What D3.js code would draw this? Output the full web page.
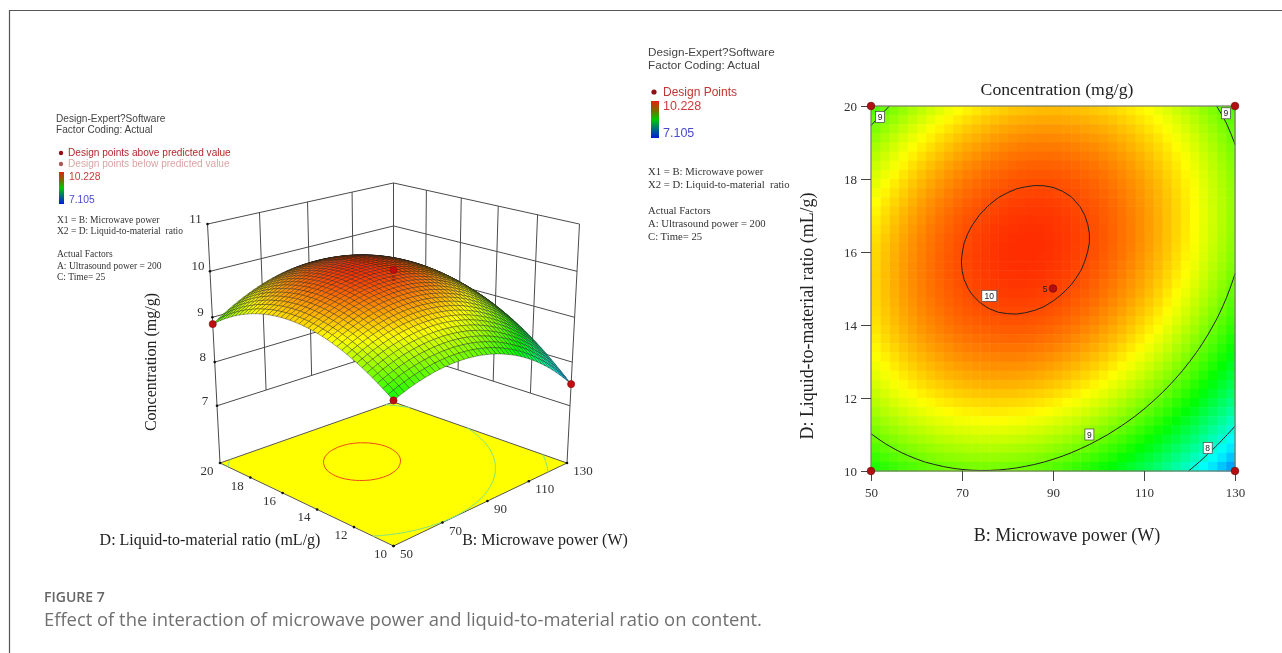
<!DOCTYPE html>
<html>
<head>
<meta charset="utf-8">
<script src="https://d3js.org/d3.v7.min.js"></script>
<style>
html, body { margin: 0; padding: 0; background: #fff; }
svg { display: block; filter: blur(0.4px); }
.sans { font-family: "Liberation Sans", Arial, sans-serif; }
.serif { font-family: "Liberation Serif", "Times New Roman", serif; }
.cap { font-family: "Open Sans", "Noto Sans", sans-serif; }
</style>
</head>
<body>
<div id="chart"></div>
<script>
const WIDTH = 1282;
const HEIGHT = 653;

const powerRange = [50, 130];
const ratioRange = [10, 20];
const powerTicks = [50, 70, 90, 110, 130];
const ratioTicks = [10, 12, 14, 16, 18, 20];
const concTicks = [7, 8, 9, 10, 11];
const concRange = [5.65, 11];
const contourLevels = [8, 9, 10];
const rampValues = [7.105, 7.886, 8.667, 9.447, 10.228];
const rampColors = ["#0000ff", "#00ffff", "#00ff00", "#ffff00", "#ff0000"];
const corners = [[50, 10], [130, 10], [50, 20], [130, 20]];
const centerPoint = [90, 15];
const heatLabels = [["9", 52, 19.7], ["9", 128, 19.8], ["10", 76, 14.8], ["9", 98, 11], ["8", 124, 10.63]];

const legendHead = ["Design-Expert?Software", "Factor Coding: Actual"];
const legendFactors = ["X1 = B: Microwave power", "X2 = D: Liquid-to-material  ratio"];
const legendActual = ["Actual Factors", "A: Ultrasound power = 200", "C: Time= 25"];

// response, rows D = 10..20 (step 0.25), columns B = 50..130 (step 2)
const concentration = [
[8.700,8.746,8.788,8.826,8.861,8.891,8.918,8.940,8.959,8.974,8.985,8.992,8.995,8.994,8.990,8.981,8.969,8.952,8.932,8.908,8.880,8.848,8.812,8.772,8.729,8.681,8.630,8.574,8.515,8.452,8.385,8.314,8.239,8.160,8.078,7.991,7.901,7.806,7.708,7.606,7.500],
[8.780,8.827,8.870,8.908,8.944,8.975,9.003,9.025,9.045,9.061,9.073,9.080,9.084,9.084,9.081,9.072,9.061,9.045,9.026,9.002,8.975,8.944,8.909,8.869,8.827,8.780,8.730,8.674,8.616,8.554,8.488,8.417,8.343,8.265,8.184,8.097,8.008,7.914,7.817,7.715,7.610],
[8.855,8.903,8.946,8.986,9.022,9.054,9.082,9.106,9.126,9.143,9.155,9.164,9.168,9.169,9.166,9.159,9.148,9.133,9.114,9.092,9.065,9.035,9.000,8.962,8.920,8.874,8.824,8.769,8.712,8.651,8.585,8.516,8.442,8.365,8.284,8.199,8.110,8.017,7.920,7.820,7.715],
[8.926,8.974,9.019,9.059,9.096,9.128,9.158,9.182,9.203,9.220,9.234,9.243,9.248,9.249,9.248,9.241,9.231,9.216,9.199,9.177,9.151,9.121,9.088,9.050,9.009,8.963,8.914,8.861,8.804,8.743,8.678,8.609,8.537,8.460,8.381,8.296,8.208,8.115,8.020,7.920,7.816],
[8.994,9.043,9.089,9.129,9.167,9.200,9.231,9.255,9.277,9.295,9.310,9.319,9.325,9.327,9.327,9.320,9.311,9.297,9.281,9.259,9.234,9.205,9.173,9.135,9.095,9.050,9.002,8.949,8.893,8.833,8.769,8.700,8.629,8.553,8.475,8.390,8.303,8.211,8.117,8.017,7.914],
[9.058,9.108,9.154,9.195,9.234,9.268,9.299,9.324,9.347,9.366,9.381,9.391,9.398,9.401,9.401,9.395,9.387,9.374,9.358,9.337,9.313,9.285,9.253,9.216,9.177,9.133,9.086,9.033,8.978,8.919,8.856,8.788,8.717,8.642,8.564,8.480,8.394,8.303,8.209,8.110,8.008],
[9.118,9.169,9.215,9.258,9.297,9.332,9.363,9.390,9.413,9.433,9.448,9.460,9.467,9.471,9.471,9.467,9.459,9.447,9.431,9.412,9.388,9.360,9.329,9.294,9.255,9.212,9.165,9.114,9.059,9.001,8.938,8.872,8.801,8.727,8.649,8.567,8.481,8.391,8.297,8.200,8.098],
[9.174,9.225,9.273,9.316,9.356,9.391,9.424,9.451,9.475,9.495,9.512,9.524,9.532,9.536,9.538,9.534,9.527,9.515,9.501,9.482,9.459,9.432,9.402,9.367,9.329,9.286,9.241,9.190,9.136,9.078,9.017,8.951,8.881,8.807,8.731,8.649,8.564,8.474,8.382,8.285,8.184],
[9.226,9.278,9.326,9.370,9.411,9.447,9.480,9.508,9.533,9.554,9.571,9.584,9.593,9.598,9.600,9.597,9.591,9.580,9.566,9.548,9.526,9.500,9.470,9.436,9.399,9.357,9.312,9.262,9.209,9.152,9.091,9.026,8.957,8.884,8.808,8.727,8.643,8.554,8.462,8.366,8.266],
[9.275,9.328,9.377,9.421,9.463,9.500,9.534,9.562,9.588,9.610,9.628,9.641,9.651,9.657,9.660,9.657,9.652,9.642,9.629,9.611,9.590,9.565,9.536,9.502,9.466,9.425,9.381,9.331,9.279,9.223,9.163,9.098,9.030,8.958,8.883,8.802,8.719,8.631,8.540,8.444,8.345],
[9.319,9.373,9.422,9.468,9.510,9.548,9.582,9.612,9.638,9.661,9.679,9.694,9.704,9.711,9.714,9.713,9.708,9.699,9.686,9.670,9.649,9.625,9.596,9.564,9.528,9.488,9.444,9.396,9.344,9.289,9.229,9.166,9.098,9.027,8.952,8.873,8.790,8.703,8.612,8.518,8.419],
[9.359,9.413,9.464,9.510,9.553,9.591,9.627,9.657,9.684,9.707,9.727,9.742,9.753,9.760,9.765,9.764,9.760,9.751,9.740,9.724,9.704,9.680,9.653,9.621,9.586,9.546,9.504,9.456,9.405,9.350,9.292,9.229,9.162,9.091,9.018,8.939,8.857,8.770,8.681,8.587,8.489],
[9.396,9.451,9.502,9.549,9.593,9.632,9.668,9.699,9.727,9.751,9.771,9.787,9.799,9.807,9.812,9.812,9.809,9.801,9.790,9.775,9.756,9.733,9.706,9.675,9.641,9.602,9.560,9.513,9.463,9.409,9.351,9.289,9.223,9.153,9.080,9.002,8.921,8.835,8.746,8.653,8.556],
[9.429,9.485,9.537,9.584,9.629,9.669,9.706,9.737,9.766,9.791,9.812,9.828,9.841,9.850,9.856,9.856,9.854,9.847,9.837,9.822,9.804,9.782,9.756,9.725,9.692,9.654,9.613,9.566,9.517,9.464,9.407,9.345,9.280,9.211,9.139,9.061,8.981,8.896,8.808,8.715,8.619],
[9.458,9.515,9.567,9.616,9.661,9.702,9.739,9.772,9.801,9.827,9.848,9.866,9.879,9.889,9.895,9.897,9.895,9.889,9.879,9.866,9.848,9.827,9.801,9.772,9.739,9.702,9.661,9.616,9.567,9.515,9.458,9.398,9.333,9.264,9.193,9.117,9.037,8.953,8.865,8.774,8.678],
[9.483,9.540,9.594,9.643,9.689,9.730,9.769,9.802,9.832,9.858,9.881,9.899,9.913,9.923,9.931,9.933,9.932,9.926,9.918,9.905,9.888,9.867,9.843,9.814,9.782,9.745,9.706,9.661,9.613,9.561,9.506,9.446,9.382,9.314,9.244,9.168,9.089,9.005,8.919,8.828,8.733],
[9.504,9.562,9.616,9.666,9.713,9.755,9.794,9.828,9.859,9.886,9.909,9.928,9.943,9.954,9.962,9.965,9.965,9.960,9.952,9.940,9.924,9.904,9.880,9.852,9.821,9.785,9.746,9.702,9.655,9.604,9.549,9.490,9.427,9.360,9.290,9.215,9.137,9.054,8.968,8.878,8.784],
[9.522,9.581,9.636,9.686,9.734,9.777,9.817,9.851,9.883,9.911,9.935,9.954,9.970,9.982,9.991,9.994,9.995,9.991,9.984,9.972,9.957,9.938,9.915,9.887,9.857,9.822,9.784,9.740,9.694,9.644,9.590,9.531,9.469,9.403,9.334,9.259,9.182,9.100,9.015,8.925,8.832],
[9.535,9.595,9.650,9.702,9.750,9.794,9.834,9.870,9.902,9.931,9.955,9.976,9.992,10.005,10.014,10.019,10.020,10.017,10.010,10.000,9.985,9.967,9.944,9.918,9.888,9.854,9.816,9.774,9.728,9.679,9.625,9.568,9.506,9.441,9.372,9.299,9.222,9.141,9.056,8.968,8.875],
[9.544,9.604,9.660,9.713,9.762,9.806,9.848,9.884,9.917,9.946,9.972,9.993,10.010,10.023,10.034,10.039,10.041,10.038,10.033,10.023,10.009,9.991,9.970,9.944,9.915,9.881,9.845,9.803,9.758,9.709,9.657,9.600,9.539,9.474,9.406,9.334,9.258,9.177,9.094,9.006,8.914],
[9.550,9.611,9.668,9.721,9.771,9.816,9.858,9.895,9.929,9.959,9.985,10.007,10.025,10.039,10.050,10.056,10.059,10.057,10.052,10.043,10.030,10.013,9.992,9.967,9.939,9.906,9.870,9.829,9.785,9.737,9.685,9.630,9.570,9.505,9.438,9.366,9.291,9.211,9.128,9.041,8.950],
[9.552,9.614,9.672,9.725,9.776,9.822,9.865,9.902,9.937,9.968,9.995,10.017,10.036,10.051,10.063,10.069,10.073,10.072,10.068,10.059,10.047,10.031,10.011,9.986,9.959,9.927,9.892,9.851,9.808,9.761,9.710,9.654,9.595,9.532,9.466,9.394,9.320,9.241,9.159,9.072,8.982],
[9.550,9.613,9.671,9.726,9.777,9.824,9.867,9.906,9.941,9.973,10.000,10.024,10.043,10.059,10.071,10.079,10.083,10.083,10.079,10.072,10.060,10.045,10.025,10.002,9.975,9.944,9.909,9.870,9.827,9.781,9.730,9.676,9.617,9.555,9.489,9.419,9.345,9.267,9.185,9.100,9.010],
[9.544,9.607,9.667,9.722,9.774,9.821,9.866,9.905,9.941,9.973,10.002,10.026,10.046,10.062,10.076,10.084,10.089,10.089,10.087,10.080,10.069,10.054,10.036,10.013,9.987,9.956,9.923,9.884,9.842,9.796,9.747,9.693,9.635,9.573,9.508,9.439,9.366,9.288,9.208,9.123,9.034],
[9.534,9.598,9.658,9.714,9.767,9.815,9.860,9.900,9.937,9.970,9.999,10.024,10.045,10.062,10.076,10.085,10.091,10.092,10.090,10.084,10.074,10.060,10.042,10.020,9.995,9.965,9.932,9.894,9.853,9.808,9.759,9.706,9.649,9.588,9.524,9.455,9.383,9.306,9.226,9.142,9.054],
[9.521,9.586,9.647,9.703,9.757,9.806,9.852,9.892,9.930,9.964,9.994,10.019,10.041,10.059,10.074,10.083,10.090,10.092,10.091,10.085,10.076,10.063,10.046,10.024,10.000,9.971,9.939,9.901,9.861,9.817,9.769,9.717,9.660,9.600,9.536,9.468,9.397,9.321,9.242,9.158,9.071],
[9.503,9.569,9.630,9.688,9.742,9.792,9.838,9.880,9.918,9.953,9.983,10.010,10.032,10.051,10.066,10.077,10.084,10.087,10.086,10.082,10.073,10.061,10.044,10.024,10.000,9.972,9.940,9.904,9.864,9.821,9.773,9.722,9.666,9.607,9.544,9.477,9.406,9.331,9.252,9.170,9.083],
[9.481,9.547,9.610,9.668,9.723,9.773,9.821,9.863,9.902,9.937,9.969,9.996,10.019,10.038,10.055,10.066,10.074,10.077,10.078,10.074,10.066,10.054,10.039,10.019,9.996,9.968,9.938,9.902,9.863,9.820,9.774,9.723,9.668,9.609,9.547,9.481,9.411,9.336,9.259,9.177,9.091],
[9.456,9.523,9.586,9.645,9.701,9.752,9.800,9.843,9.883,9.919,9.951,9.979,10.003,10.023,10.040,10.052,10.061,10.065,10.066,10.063,10.056,10.045,10.030,10.011,9.989,9.962,9.932,9.897,9.859,9.817,9.771,9.721,9.667,9.609,9.548,9.482,9.413,9.339,9.262,9.181,9.096],
[9.427,9.495,9.559,9.618,9.675,9.727,9.776,9.819,9.860,9.897,9.930,9.958,9.983,10.004,10.022,10.034,10.044,10.049,10.051,10.048,10.042,10.032,10.018,9.999,9.978,9.952,9.923,9.888,9.851,9.810,9.765,9.715,9.662,9.605,9.545,9.479,9.411,9.338,9.262,9.181,9.097],
[9.394,9.463,9.527,9.588,9.645,9.698,9.747,9.792,9.833,9.871,9.904,9.934,9.959,9.981,9.999,10.013,10.023,10.029,10.031,10.030,10.024,10.015,10.001,9.984,9.963,9.938,9.909,9.876,9.839,9.799,9.754,9.706,9.653,9.597,9.537,9.473,9.405,9.333,9.257,9.178,9.094],
[9.357,9.426,9.492,9.553,9.611,9.664,9.715,9.760,9.802,9.840,9.875,9.905,9.931,9.953,9.973,9.987,9.998,10.004,10.008,10.007,10.002,9.993,9.981,9.964,9.944,9.919,9.892,9.859,9.823,9.783,9.740,9.692,9.640,9.584,9.526,9.462,9.395,9.323,9.249,9.170,9.087],
[9.316,9.386,9.452,9.514,9.573,9.627,9.678,9.724,9.767,9.806,9.841,9.872,9.899,9.922,9.942,9.957,9.969,9.976,9.980,9.980,9.976,9.968,9.956,9.940,9.921,9.897,9.870,9.838,9.803,9.764,9.721,9.674,9.623,9.568,9.510,9.447,9.381,9.310,9.236,9.158,9.076],
[9.272,9.343,9.410,9.472,9.532,9.587,9.639,9.685,9.729,9.769,9.805,9.836,9.864,9.888,9.909,9.924,9.937,9.945,9.950,9.950,9.947,9.940,9.929,9.913,9.895,9.872,9.846,9.814,9.780,9.742,9.700,9.654,9.603,9.549,9.492,9.429,9.364,9.294,9.221,9.143,9.062],
[9.223,9.295,9.362,9.426,9.486,9.542,9.594,9.642,9.686,9.727,9.763,9.796,9.824,9.849,9.870,9.887,9.900,9.909,9.914,9.916,9.913,9.907,9.896,9.882,9.864,9.842,9.816,9.786,9.752,9.715,9.673,9.628,9.578,9.525,9.468,9.407,9.342,9.273,9.200,9.124,9.043],
[9.170,9.242,9.311,9.375,9.436,9.492,9.546,9.594,9.639,9.680,9.718,9.751,9.780,9.805,9.828,9.845,9.859,9.868,9.875,9.877,9.875,9.869,9.860,9.846,9.829,9.807,9.783,9.753,9.720,9.683,9.643,9.598,9.549,9.496,9.441,9.380,9.316,9.247,9.176,9.100,9.020],
[9.114,9.187,9.256,9.321,9.383,9.440,9.494,9.543,9.589,9.631,9.669,9.703,9.733,9.759,9.782,9.800,9.815,9.825,9.832,9.835,9.834,9.829,9.820,9.807,9.791,9.770,9.746,9.717,9.685,9.649,9.609,9.565,9.517,9.465,9.410,9.350,9.287,9.219,9.148,9.073,8.994],
[9.054,9.128,9.198,9.263,9.326,9.384,9.439,9.488,9.535,9.578,9.617,9.651,9.682,9.709,9.733,9.751,9.767,9.778,9.786,9.789,9.789,9.785,9.777,9.764,9.749,9.729,9.706,9.677,9.646,9.611,9.572,9.528,9.481,9.430,9.376,9.316,9.254,9.187,9.117,9.042,8.964],
[8.990,9.065,9.135,9.202,9.265,9.324,9.379,9.430,9.477,9.521,9.560,9.596,9.627,9.655,9.679,9.699,9.715,9.727,9.735,9.740,9.740,9.737,9.729,9.718,9.703,9.684,9.661,9.634,9.604,9.569,9.530,9.488,9.441,9.391,9.337,9.279,9.217,9.151,9.081,9.008,8.930],
[8.922,8.997,9.069,9.136,9.200,9.259,9.316,9.367,9.415,9.459,9.500,9.536,9.568,9.596,9.622,9.642,9.659,9.671,9.681,9.686,9.687,9.684,9.678,9.667,9.653,9.634,9.613,9.586,9.557,9.522,9.485,9.444,9.397,9.348,9.295,9.238,9.177,9.112,9.043,8.969,8.892],
[8.850,8.926,8.998,9.066,9.131,9.191,9.248,9.300,9.349,9.394,9.435,9.472,9.505,9.534,9.560,9.581,9.599,9.612,9.622,9.628,9.630,9.628,9.622,9.612,9.599,9.581,9.560,9.534,9.505,9.472,9.435,9.394,9.349,9.300,9.248,9.191,9.131,9.066,8.998,8.926,8.850]
];

const heatColor = d3.scaleLinear().domain(rampValues).range(rampColors).clamp(true);
const N = concentration[0].length;
const powerIndex = d3.scaleLinear().domain([0, N - 1]).range(powerRange);
const ratioIndex = d3.scaleLinear().domain([0, concentration.length - 1]).range(ratioRange);

const svg = d3.select("#chart").append("svg")
    .attr("width", WIDTH)
    .attr("height", HEIGHT);

var defs = svg.append("defs");
var grad = defs.append("linearGradient").attr("id", "ramp")
    .attr("x1", 0).attr("x2", 0).attr("y1", 0).attr("y2", 1);
[["0%", "#e8200a"], ["25%", "#7a6a00"], ["50%", "#00c800"], ["75%", "#006e7a"], ["100%", "#0018e0"]].forEach(function (s) {
    grad.append("stop").attr("offset", s[0]).attr("stop-color", s[1]);
});

// page frame
svg.append("path")
    .attr("d", "M9.5," + HEIGHT + "V10.5H" + WIDTH)
    .attr("fill", "none").attr("stroke", "#555").attr("stroke-width", 1.2);

// 3D projection, calibrated on the box corners
const xUnit = d3.scaleLinear().domain(powerRange).range([-1, 1]);
const yUnit = d3.scaleLinear().domain(ratioRange).range([-1, 1]);
const hUnit = d3.scaleLinear().domain(concRange).range([0, 1]);

function project(b, d, v) {
    var x = xUnit(b), y = yUnit(d), h = hUnit(v);
    var r = (x - y) / 2, q = (x + y) / 2;
    var w = 1 + 0.1528 * q - 0.0672 * h;
    return [393.5 + 173.5 * r / w, (0.43 * q + 463 - 254 * h - 10.8 * q * h) / w];
}

var g3 = svg.append("g");
const floorV = concRange[0];
const lineGen = d3.line();

function polyPath(pts) { return lineGen(pts) + "Z"; }

// floor
g3.append("path")
    .attr("d", polyPath([project(50, 10, floorV), project(130, 10, floorV), project(130, 20, floorV), project(50, 20, floorV)]))
    .attr("fill", "#ffff00").attr("stroke", "#555").attr("stroke-width", 1);

// iso lines, cut where a ring runs along the grid edge
function isoSegments(level) {
    var flat = [].concat.apply([], concentration);
    var c = d3.contours().size([N, concentration.length]).thresholds([level])(flat)[0];
    var segs = [];
    c.coordinates.forEach(function (poly) {
        poly.forEach(function (ring) {
            var pts = ring.map(function (p) {
                return [Math.max(0, Math.min(N - 1, p[0] - 0.5)), Math.max(0, Math.min(N - 1, p[1] - 0.5))];
            });
            for (var i = 1; i < pts.length; i++) {
                var a = pts[i - 1], b = pts[i];
                var sameEdge = (a[0] === b[0] && (a[0] === 0 || a[0] === N - 1)) ||
                    (a[1] === b[1] && (a[1] === 0 || a[1] === N - 1));
                if (!sameEdge) segs.push([a, b]);
            }
        });
    });
    return segs;
}

function isoPath(level, toScreen) {
    var p = d3.path();
    isoSegments(level).forEach(function (s) {
        var a = toScreen(s[0]), b = toScreen(s[1]);
        p.moveTo(a[0], a[1]);
        p.lineTo(b[0], b[1]);
    });
    return p.toString();
}

contourLevels.forEach(function (level) {
    g3.append("path")
        .attr("d", isoPath(level, function (p) { return project(powerIndex(p[0]), ratioIndex(p[1]), floorV); }))
        .attr("fill", "none")
        .attr("stroke", level === 10 ? "#f04a1a" : "#7fe28a")
        .attr("stroke-width", 1);
});

// walls
function wallLine(p, q) {
    g3.append("line").attr("x1", p[0]).attr("y1", p[1]).attr("x2", q[0]).attr("y2", q[1])
        .attr("stroke", "#4a4a4a").attr("stroke-width", 1);
}
concTicks.forEach(function (v) {
    wallLine(project(50, 20, v), project(130, 20, v));
    wallLine(project(130, 20, v), project(130, 10, v));
});
powerTicks.slice(1, -1).forEach(function (b) { wallLine(project(b, 20, 7), project(b, 20, 11)); });
ratioTicks.slice(1, -1).forEach(function (d) { wallLine(project(130, d, 7), project(130, d, 11)); });
wallLine(project(130, 20, 7), project(130, 20, 11));
wallLine(project(50, 20, floorV), project(50, 20, 11));
wallLine(project(130, 10, floorV), project(130, 10, 11));

// response surface, far cells first
var cells = [];
d3.range(N - 1).forEach(function (i) {
    d3.range(concentration.length - 1).forEach(function (j) {
        cells.push({ i: i, j: j, v: (concentration[j][i] + concentration[j][i + 1] + concentration[j + 1][i] + concentration[j + 1][i + 1]) / 4 });
    });
});
cells.sort(function (a, b) { return (b.i + b.j) - (a.i + a.j); });

function node(i, j) { return project(powerIndex(i), ratioIndex(j), concentration[j][i]); }

g3.append("g").selectAll("path").data(cells).enter().append("path")
    .attr("d", function (c) {
        return polyPath([node(c.i, c.j), node(c.i + 1, c.j), node(c.i + 1, c.j + 1), node(c.i, c.j + 1)]);
    })
    .attr("fill", function (c) { return heatColor(c.v); })
    .attr("stroke", "#1c1c1c").attr("stroke-width", 0.5).attr("stroke-opacity", 0.75);

// design points on the surface
function surfacePoint(p) {
    var i = Math.round(powerIndex.invert(p[0])), j = Math.round(ratioIndex.invert(p[1]));
    return project(p[0], p[1], concentration[j][i]);
}
corners.filter(function (c) { return !(c[0] === 130 && c[1] === 20); }).concat([centerPoint]).forEach(function (c) {
    var s = surfacePoint(c);
    g3.append("circle").attr("cx", s[0]).attr("cy", s[1]).attr("r", 3.6)
        .attr("fill", "#c00d10").attr("stroke", "#8a0a0a").attr("stroke-width", 0.6);
});
var cs = surfacePoint(centerPoint);
g3.append("text").attr("class", "sans").attr("x", cs[0]).attr("y", cs[1] + 11)
    .attr("text-anchor", "middle").attr("font-size", 8).attr("fill", "#8a1a10").text("5");

// 3D ticks
function tickDot(p) {
    g3.append("circle").attr("cx", p[0]).attr("cy", p[1]).attr("r", 1.3).attr("fill", "#111");
}
function tickText(p, dx, dy, s) {
    g3.append("text").attr("class", "serif").attr("x", p[0] + dx).attr("y", p[1] + dy)
        .attr("text-anchor", "middle").attr("font-size", 13).attr("fill", "#333").text(s);
}
concTicks.forEach(function (v) {
    var p = project(50, 20, v);
    tickDot(p);
    tickText(p, -12, -1, v);
});
ratioTicks.forEach(function (d) {
    var p = project(50, d, floorV);
    tickDot(p);
    tickText(p, -13, 12, d);
});
powerTicks.forEach(function (b) {
    var p = project(b, 10, floorV);
    tickDot(p);
    tickText(p, b > 90 ? 16 : 13, 12, b);
});

function serifLabel(x, y, size, s, rotate) {
    var t = svg.append("text").attr("class", "serif").attr("font-size", size).attr("fill", "#222")
        .attr("text-anchor", "middle").text(s);
    if (rotate) t.attr("transform", "translate(" + x + "," + y + ") rotate(-90)");
    else t.attr("x", x).attr("y", y);
}
serifLabel(156, 362, 16, "Concentration (mg/g)", true);
serifLabel(210, 545, 16, "D: Liquid-to-material ratio (mL/g)");
serifLabel(545, 545, 16, "B: Microwave power (W)");

// heat map panel
const xHeat = d3.scaleLinear().domain(powerRange).range([871, 1235]);
const yHeat = d3.scaleLinear().domain(ratioRange).range([471, 106]);
var gh = svg.append("g");

gh.append("g").selectAll("rect").data(cells).enter().append("rect")
    .attr("x", function (c) { return xHeat(powerIndex(c.i)); })
    .attr("y", function (c) { return yHeat(ratioIndex(c.j + 1)); })
    .attr("width", function (c) { return xHeat(powerIndex(c.i + 1)) - xHeat(powerIndex(c.i)) + 0.5; })
    .attr("height", function (c) { return yHeat(ratioIndex(c.j)) - yHeat(ratioIndex(c.j + 1)) + 0.5; })
    .attr("fill", function (c) { return heatColor(c.v); });

contourLevels.forEach(function (level) {
    gh.append("path")
        .attr("d", isoPath(level, function (p) { return [xHeat(powerIndex(p[0])), yHeat(ratioIndex(p[1]))]; }))
        .attr("fill", "none").attr("stroke", "#222").attr("stroke-width", 1);
});

gh.append("rect").attr("x", 871).attr("y", 106).attr("width", 364).attr("height", 365)
    .attr("fill", "none").attr("stroke", "#77786a").attr("stroke-width", 1.2);

var xAxis = gh.append("g").attr("transform", "translate(0,471)")
    .call(d3.axisBottom(xHeat).tickValues(powerTicks).tickSize(10).tickPadding(7).tickSizeOuter(0));
var yAxis = gh.append("g").attr("transform", "translate(871,0)")
    .call(d3.axisLeft(yHeat).tickValues(ratioTicks).tickSize(10).tickPadding(4).tickSizeOuter(0));
[xAxis, yAxis].forEach(function (a) {
    a.select(".domain").remove();
    a.selectAll("line").attr("stroke", "#444");
    a.selectAll("text").attr("class", "serif").attr("font-size", 13).attr("fill", "#333");
});

heatLabels.forEach(function (l) {
    var w = l[0].length > 1 ? 15 : 9;
    var x = xHeat(l[1]), y = yHeat(l[2]);
    gh.append("rect").attr("x", x - w / 2).attr("y", y - 5.5).attr("width", w).attr("height", 11)
        .attr("fill", "#fff").attr("stroke", "#444").attr("stroke-width", 0.7);
    gh.append("text").attr("class", "sans").attr("x", x).attr("y", y + 3)
        .attr("text-anchor", "middle").attr("font-size", 8.5).attr("fill", "#222").text(l[0]);
});

corners.concat([centerPoint]).forEach(function (c) {
    gh.append("circle").attr("cx", xHeat(c[0])).attr("cy", yHeat(c[1])).attr("r", 3.8)
        .attr("fill", "#b30f12").attr("stroke", "#6e0a0a").attr("stroke-width", 0.7);
});
gh.append("text").attr("class", "sans").attr("x", xHeat(centerPoint[0]) - 8).attr("y", yHeat(centerPoint[1]) + 3)
    .attr("text-anchor", "middle").attr("font-size", 8.5).attr("fill", "#222").text("5");

serifLabel(1057, 95, 17.7, "Concentration (mg/g)");
serifLabel(1067, 541, 18, "B: Microwave power (W)");
serifLabel(813, 316, 17.9, "D: Liquid-to-material ratio (mL/g)", true);

// legends
function textLine(cls, x, y, size, fill, s) {
    return svg.append("text").attr("class", cls).attr("x", x).attr("y", y)
        .attr("font-size", size).attr("fill", fill).attr("xml:space", "preserve").text(s);
}
function ramp(x, y, w, h) {
    svg.append("rect").attr("x", x).attr("y", y).attr("width", w).attr("height", h).attr("fill", "url(#ramp)");
}
function legendDot(x, y, r, fill) {
    svg.append("circle").attr("cx", x).attr("cy", y).attr("r", r).attr("fill", fill);
}

textLine("sans", 56, 122, 10.1, "#444", legendHead[0]);
textLine("sans", 56, 133, 10.1, "#444", legendHead[1]);
legendDot(61, 153, 2.2, "#8e1014");
legendDot(61, 164, 2.2, "#a85a5a");
textLine("sans", 68, 156, 10.1, "#b5282c", "Design points above predicted value");
textLine("sans", 68, 167, 10.1, "#dba3a3", "Design points below predicted value");
ramp(59, 172, 5, 32);
textLine("sans", 69, 180, 10.3, "#cc3a3a", "10.228");
textLine("sans", 69, 203, 10.3, "#4a4ad0", "7.105");
textLine("serif", 57, 223, 9.5, "#333", legendFactors[0]);
textLine("serif", 57, 234, 9.5, "#333", legendFactors[1]);
textLine("serif", 57, 257, 9.5, "#333", legendActual[0]);
textLine("serif", 57, 269, 9.5, "#333", legendActual[1]);
textLine("serif", 57, 280, 9.5, "#333", legendActual[2]);

textLine("sans", 648, 56, 11.7, "#444", legendHead[0]);
textLine("sans", 648, 69, 11.7, "#444", legendHead[1]);
legendDot(654, 92, 2.6, "#8e1014");
textLine("sans", 663, 96, 12, "#c03535", "Design Points");
ramp(651, 101, 8, 37);
textLine("sans", 663, 110, 12.5, "#cc3a3a", "10.228");
textLine("sans", 663, 137, 12.5, "#4a4ad0", "7.105");
textLine("serif", 648, 175, 10.7, "#333", legendFactors[0]);
textLine("serif", 648, 188, 10.7, "#333", legendFactors[1]);
textLine("serif", 648, 214, 10.7, "#333", legendActual[0]);
textLine("serif", 648, 227, 10.7, "#333", legendActual[1]);
textLine("serif", 648, 240, 10.7, "#333", legendActual[2]);

// caption
textLine("cap", 44, 602, 14, "#666", "FIGURE 7").attr("font-weight", 600);
textLine("cap", 44, 626, 18.4, "#707070", "Effect of the interaction of microwave power and liquid-to-material ratio on content.");
</script>
</body>
</html>
